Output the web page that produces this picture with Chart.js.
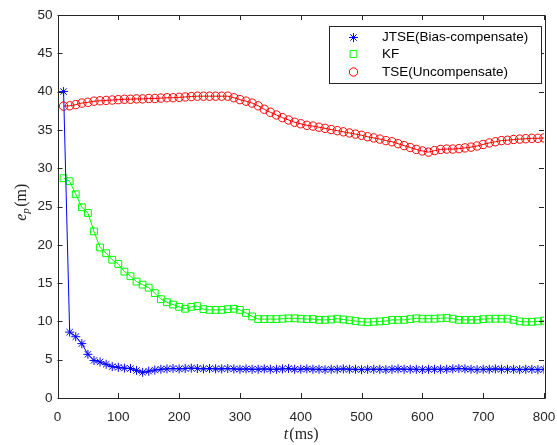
<!DOCTYPE html>
<html>
<head>
<meta charset="utf-8">
<script src="https://cdn.jsdelivr.net/npm/chart.js@4/dist/chart.umd.min.js"></script>
<style>
  html, body { margin: 0; padding: 0; background: #fff; }
  #wrap { width: 557px; height: 445px; position: relative; }
</style>
</head>
<body>
<div id="wrap"><canvas id="chart" width="557" height="445"></canvas></div>
<script>
// time axis (ms)
const times = [10,20,30,40,50,60,70,80,90,100,110,120,130,140,150,160,170,180,190,200,
  210,220,230,240,250,260,270,280,290,300,310,320,330,340,350,360,370,380,390,400,
  410,420,430,440,450,460,470,480,490,500,510,520,530,540,550,560,570,580,590,600,
  610,620,630,640,650,660,670,680,690,700,710,720,730,740,750,760,770,780,790,800];

const jtse = [40,8.6,8.0,7.1,5.7,4.9,4.7,4.4,4.1,4.0,3.9,3.85,3.6,3.35,3.5,3.65,3.75,3.8,3.85,3.8,
  3.85,3.9,3.85,3.8,3.85,3.8,3.8,3.85,3.8,3.75,3.8,3.75,3.75,3.8,3.75,3.75,3.8,3.85,3.75,3.75,
  3.8,3.75,3.75,3.7,3.75,3.75,3.8,3.75,3.75,3.7,3.75,3.75,3.75,3.7,3.75,3.8,3.75,3.75,3.75,3.7,
  3.75,3.75,3.75,3.75,3.8,3.85,3.8,3.75,3.7,3.75,3.75,3.8,3.75,3.75,3.75,3.7,3.75,3.75,3.7,3.75];

const kf = [28.7,28.3,26.6,24.9,24.15,21.75,19.65,18.9,18.05,17.5,16.5,15.9,15.2,14.8,14.4,13.7,12.9,12.5,12.2,11.9,
  11.65,11.9,12.0,11.6,11.5,11.5,11.5,11.6,11.65,11.5,11.1,10.65,10.3,10.3,10.3,10.3,10.35,10.4,10.4,10.35,
  10.3,10.3,10.2,10.2,10.25,10.35,10.25,10.15,10.05,9.95,9.9,9.95,10.0,10.05,10.2,10.2,10.2,10.3,10.4,10.35,
  10.35,10.35,10.4,10.45,10.35,10.2,10.2,10.2,10.2,10.3,10.35,10.35,10.35,10.35,10.2,10.0,9.95,9.95,10.0,10.1];

const tse = [38.1,38.15,38.3,38.5,38.6,38.75,38.8,38.85,38.9,38.95,39.0,39.0,39.05,39.05,39.1,39.1,39.15,39.2,39.2,39.25,
  39.3,39.35,39.4,39.4,39.4,39.4,39.4,39.4,39.2,38.95,38.75,38.5,38.15,37.7,37.3,36.95,36.6,36.3,36.0,35.8,
  35.6,35.5,35.35,35.2,35.05,34.9,34.75,34.6,34.45,34.3,34.1,33.95,33.8,33.6,33.45,33.2,32.95,32.7,32.45,32.25,
  32.1,32.3,32.45,32.5,32.5,32.55,32.65,32.75,32.9,33.1,33.3,33.45,33.6,33.65,33.75,33.8,33.85,33.9,33.9,33.95];

const seriesNames = ['JTSE(Bias-compensate)', 'KF', 'TSE(Uncompensate)'];

const axisColor = '#262626';
const tickFont = { family: '"Liberation Sans", Arial, sans-serif', size: 13.5 };

const toPoints = vals => vals.map((v, i) => ({ x: times[i], y: v }));

const makeSet = (label, vals, color, style, radius) => ({
  label,
  data: toPoints(vals),
  borderColor: color,
  backgroundColor: 'transparent',
  borderWidth: 1,
  pointStyle: style,
  pointRadius: radius,
  pointHoverRadius: radius,
  pointBorderColor: color,
  pointBackgroundColor: 'transparent',
  pointBorderWidth: 1,
  tension: 0
});

// MATLAB-style box with inward ticks on all four sides
const boxAxes = {
  id: 'boxAxes',
  afterDatasetsDraw(chart) {
    const { ctx, chartArea: a, scales: { x, y } } = chart;
    const len = 5;
    ctx.save();
    ctx.strokeStyle = axisColor;
    ctx.lineWidth = 1;
    ctx.beginPath();
    ctx.rect(Math.round(a.left) + 0.5, Math.round(a.top) + 0.5,
      Math.round(a.right - a.left), Math.round(a.bottom - a.top));
    x.ticks.forEach(t => {
      const px = Math.round(x.getPixelForValue(t.value)) + 0.5;
      ctx.moveTo(px, a.bottom); ctx.lineTo(px, a.bottom - len);
      ctx.moveTo(px, a.top); ctx.lineTo(px, a.top + len);
    });
    y.ticks.forEach(t => {
      const py = Math.round(y.getPixelForValue(t.value)) + 0.5;
      ctx.moveTo(a.left, py); ctx.lineTo(a.left + len, py);
      ctx.moveTo(a.right, py); ctx.lineTo(a.right - len, py);
    });
    ctx.stroke();
    ctx.restore();
  }
};

function drawMarker(ctx, style, cx, cy, r) {
  ctx.beginPath();
  if (style === 'star') {
    ctx.moveTo(cx - r, cy); ctx.lineTo(cx + r, cy);
    ctx.moveTo(cx, cy - r); ctx.lineTo(cx, cy + r);
    const d = r * Math.SQRT1_2;
    ctx.moveTo(cx - d, cy - d); ctx.lineTo(cx + d, cy + d);
    ctx.moveTo(cx - d, cy + d); ctx.lineTo(cx + d, cy - d);
  } else if (style === 'rect') {
    const s = r * Math.SQRT1_2;
    ctx.rect(cx - s, cy - s, 2 * s, 2 * s);
  } else {
    ctx.arc(cx, cy, r, 0, Math.PI * 2);
  }
  ctx.stroke();
}

// legend box in the upper right plus axis titles
const extras = {
  id: 'extras',
  afterDraw(chart) {
    const { ctx, chartArea: a } = chart;
    ctx.save();
    // legend
    const bx = 329.5, by = 26.5, bw = 212, bh = 57;
    ctx.fillStyle = '#fff';
    ctx.fillRect(bx, by, bw, bh);
    ctx.strokeStyle = axisColor;
    ctx.lineWidth = 1;
    ctx.strokeRect(bx, by, bw, bh);
    const rows = [37.5, 54, 72];
    chart.data.datasets.forEach((ds, i) => {
      ctx.strokeStyle = ds.borderColor;
      ctx.lineWidth = 1;
      drawMarker(ctx, ds.pointStyle, 353.5, rows[i], ds.pointRadius);
      ctx.fillStyle = '#000';
      ctx.font = '13.5px "Liberation Sans", Arial, sans-serif';
      ctx.textBaseline = 'middle';
      ctx.textAlign = 'left';
      ctx.fillText(ds.label, 382, rows[i]);
    });

    // x title: t(ms)
    const serif = '"Liberation Serif", "DejaVu Serif", serif';
    ctx.fillStyle = axisColor;
    ctx.textBaseline = 'alphabetic';
    const cx = (a.left + a.right) / 2;
    const tPart = 't', rest = '(ms)';
    ctx.font = 'italic 16px ' + serif;
    const w1 = ctx.measureText(tPart).width;
    ctx.font = '16px ' + serif;
    const w2 = ctx.measureText(rest).width;
    let sx = cx - (w1 + w2) / 2;
    const base = 439;
    ctx.font = 'italic 16px ' + serif;
    ctx.fillText(tPart, sx, base);
    ctx.font = '16px ' + serif;
    ctx.fillText(rest, sx + w1 + 1, base);

    // y title: e_p(m), rotated
    ctx.translate(26, (a.top + a.bottom) / 2 - 4);
    ctx.rotate(-Math.PI / 2);
    ctx.font = 'italic 16px ' + serif;
    const we = ctx.measureText('e').width;
    ctx.font = 'italic 11px ' + serif;
    const wp = ctx.measureText('p').width;
    ctx.font = '16px ' + serif;
    const wm = ctx.measureText('(m)').width;
    let ox = -(we + wp + wm + 1) / 2;
    ctx.font = 'italic 16px ' + serif;
    ctx.fillText('e', ox, 0);
    ctx.font = 'italic 11px ' + serif;
    ctx.fillText('p', ox + we, 3);
    ctx.font = '16px ' + serif;
    ctx.fillText('(m)', ox + we + wp + 1.5, 0);
    ctx.restore();
  }
};

new Chart(document.getElementById('chart'), {
  type: 'line',
  data: {
    datasets: [
      makeSet(seriesNames[0], jtse, '#0000ff', 'star', 4.5),
      makeSet(seriesNames[1], kf, '#00ff00', 'rect', 4.8),
      makeSet(seriesNames[2], tse, '#ff0000', 'circle', 4.2)
    ]
  },
  options: {
    responsive: false,
    animation: false,
    events: [],
    layout: { padding: { top: 15, right: 13, left: 0, bottom: 0 } },
    plugins: { legend: { display: false }, tooltip: { enabled: false } },
    scales: {
      x: {
        type: 'linear',
        min: 0, max: 800,
        grid: { display: false, drawTicks: false },
        border: { display: false },
        ticks: { stepSize: 100, color: axisColor, font: tickFont, padding: 11, maxRotation: 0 },
        afterFit(scale) {
          scale.height = 47;
          scale.paddingLeft = 0;
          scale.paddingRight = 0;
        }
      },
      y: {
        min: 0, max: 50,
        grid: { display: false, drawTicks: false },
        border: { display: false },
        ticks: { stepSize: 5, color: axisColor, font: tickFont, padding: 5 },
        afterFit(scale) {
          scale.width = 57.5;
          scale.paddingTop = 0;
          scale.paddingBottom = 0;
        }
      }
    }
  },
  plugins: [boxAxes, extras]
});
</script>
</body>
</html>
